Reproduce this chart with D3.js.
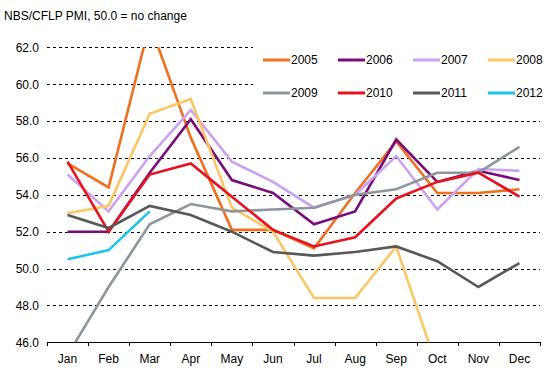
<!DOCTYPE html>
<html>
<head>
<meta charset="utf-8">
<script src="https://cdn.jsdelivr.net/npm/d3@7"></script>
<style>
  body { margin: 0; background: #fff; }
  svg { display: block; font-family: "Liberation Sans", Arial, sans-serif; }
</style>
</head>
<body>
<svg id="chart" width="552" height="371"></svg>
<script>
var months = ["Jan", "Feb", "Mar", "Apr", "May", "Jun", "Jul", "Aug", "Sep", "Oct", "Nov", "Dec"];
var years = ["2005", "2006", "2007", "2008", "2009", "2010", "2011", "2012"];
var yTicks = [46, 48, 50, 52, 54, 56, 58, 60, 62];

var pmi2005 = [55.7, 54.4, 63.3, 57.1, 52.1, 52.1, 51.1, 54.1, 56.9, 54.1, 54.1, 54.3];
var pmi2006 = [52.0, 52.0, 55.2, 58.1, 54.8, 54.1, 52.4, 53.1, 57.0, 54.7, 55.3, 54.8];
var pmi2007 = [55.1, 53.1, 56.1, 58.6, 55.8, 54.7, 53.3, 54.0, 56.1, 53.2, 55.4, 55.3];
var pmi2008 = [53.0, 53.4, 58.4, 59.2, 53.3, 52.0, 48.4, 48.4, 51.2, 44.6, 38.8, 41.2];
var pmi2009 = [45.3, 49.0, 52.4, 53.5, 53.1, 53.2, 53.3, 54.0, 54.3, 55.2, 55.2, 56.6];
var pmi2010 = [55.8, 52.0, 55.1, 55.7, 53.9, 52.1, 51.2, 51.7, 53.8, 54.7, 55.2, 53.9];
var pmi2011 = [52.9, 52.2, 53.4, 52.9, 52.0, 50.9, 50.7, 50.9, 51.2, 50.4, 49.0, 50.3];
var pmi2012 = [50.5, 51.0, 53.1];

var colors = ["#f07020", "#7a0c7a", "#c9a2f2", "#fdc664", "#8d969c", "#e8121c", "#585858", "#1cc4ee"];

var series = [pmi2005, pmi2006, pmi2007, pmi2008, pmi2009, pmi2010, pmi2011, pmi2012].map(function(vals, i) {
	return { year: years[i], color: colors[i], values: vals };
});

var svg = d3.select("#chart");
var plotLeft = 47, plotRight = 540, plotTop = 47.3, plotBottom = 342.3;
var fontSize = 12;

var x = d3.scaleBand().domain(months).range([plotLeft, plotRight]);
var y = d3.scaleLinear().domain([46, 62]).range([plotBottom, plotTop]);

// title
svg.append("text")
	.attr("x", 4).attr("y", 20)
	.attr("font-size", fontSize)
	.text("NBS/CFLP PMI, 50.0 = no change");

// dashed gridlines
svg.append("g")
	.selectAll("line")
	.data(yTicks.filter(function(d) { return d > 46; }))
	.enter().append("line")
	.attr("x1", plotLeft).attr("x2", plotRight)
	.attr("y1", function(d) { return Math.round(y(d)) + 0.5; })
	.attr("y2", function(d) { return Math.round(y(d)) + 0.5; })
	.attr("stroke", "#000")
	.attr("stroke-dasharray", "3,3");

// y labels
var yAxis = svg.append("g")
	.attr("transform", "translate(" + plotLeft + ",0)")
	.call(d3.axisLeft(y).tickValues(yTicks).tickFormat(d3.format(".1f")).tickSize(0).tickPadding(8));
yAxis.select(".domain").remove();
yAxis.selectAll("text").attr("font-size", fontSize).attr("fill", "#000").attr("font-family", null);

// x axis
var xAxis = svg.append("g")
	.attr("transform", "translate(0," + plotBottom + ")")
	.call(d3.axisBottom(x).tickSize(0).tickPadding(12));
xAxis.select(".domain").remove();
xAxis.selectAll("text").attr("font-size", fontSize).attr("fill", "#000").attr("font-family", null);

svg.append("line")
	.attr("x1", plotLeft).attr("x2", plotRight)
	.attr("y1", Math.round(plotBottom) + 0.5).attr("y2", Math.round(plotBottom) + 0.5)
	.attr("stroke", "#000");

var bounds = months.map(function(m) { return x(m); }).concat([plotRight]);
svg.append("g")
	.selectAll("line")
	.data(bounds)
	.enter().append("line")
	.attr("x1", function(d) { return Math.round(d) + 0.5; })
	.attr("x2", function(d) { return Math.round(d) + 0.5; })
	.attr("y1", Math.round(plotBottom)).attr("y2", Math.round(plotBottom) + 4)
	.attr("stroke", "#000");

// clip for data lines
svg.append("clipPath").attr("id", "plotClip")
	.append("rect")
	.attr("x", plotLeft).attr("y", plotTop)
	.attr("width", plotRight - plotLeft).attr("height", plotBottom - plotTop);

var line = d3.line()
	.x(function(d, i) { return x(months[i]) + x.bandwidth() / 2; })
	.y(function(d) { return y(d); });

svg.append("g")
	.attr("clip-path", "url(#plotClip)")
	.selectAll("path")
	.data(series)
	.enter().append("path")
	.attr("d", function(d) { return line(d.values); })
	.attr("fill", "none")
	.attr("stroke", function(d) { return d.color; })
	.attr("stroke-width", 2.6)
	.attr("stroke-linejoin", "miter");

// legend
var legend = svg.append("g");
legend.append("rect")
	.attr("x", 253).attr("y", 40)
	.attr("width", 295).attr("height", 70)
	.attr("fill", "#fff");

var item = legend.selectAll("g.item")
	.data(series)
	.enter().append("g")
	.attr("class", "item")
	.attr("transform", function(d, i) {
		return "translate(" + (263 + (i % 4) * 75) + "," + (i < 4 ? 60 : 93) + ")";
	});
item.append("line")
	.attr("x1", 0).attr("x2", 27)
	.attr("stroke", function(d) { return d.color; })
	.attr("stroke-width", 3);
item.append("text")
	.attr("x", 28).attr("dy", "0.36em")
	.attr("font-size", fontSize)
	.text(function(d) { return d.year; });
</script>
</body>
</html>
